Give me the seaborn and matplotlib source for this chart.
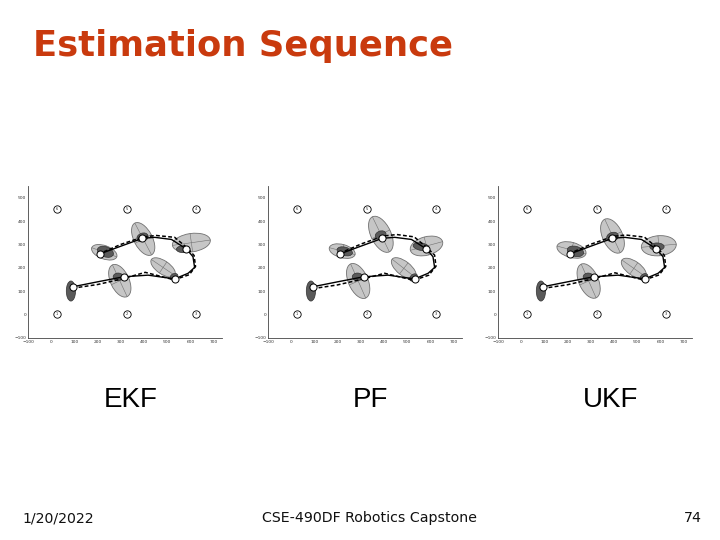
import numpy as np
import pandas as pd
import matplotlib
matplotlib.use("Agg")
import matplotlib.pyplot as plt
import seaborn as sns
from matplotlib.patches import Ellipse

sns.set_style("white")
plt.rcParams['font.family'] = ['DejaVu Sans']

# ---------------- data ----------------
filters = ["EKF", "PF", "UKF"]
x_ticks = [-100, 0, 100, 200, 300, 400, 500, 600, 700]
y_ticks = [-100, 0, 100, 200, 300, 400, 500]

landmark_x = [25, 325, 625, 625, 325, 25]
landmark_y = [0, 0, 0, 450, 450, 450]
landmark_id = ["1", "2", "3", "4", "5", "6"]

true_x = [91, 202, 312, 417, 532, 590, 618, 611, 583, 518, 446, 393, 302, 209]
true_y = [118, 140, 161, 168, 152, 176, 201, 247, 280, 321, 330, 326, 293, 259]

ekf_est_x = [91, 200, 305, 405, 530, 595, 622, 616, 588, 532, 452, 396, 300, 212]
ekf_est_y = [112, 128, 152, 180, 148, 170, 205, 252, 283, 330, 338, 332, 300, 262]
pf_est_x = [91, 198, 303, 402, 528, 593, 624, 618, 586, 530, 455, 398, 302, 214]
pf_est_y = [110, 126, 150, 176, 146, 168, 206, 254, 285, 332, 342, 336, 302, 264]
ukf_est_x = [91, 199, 304, 404, 529, 594, 623, 617, 587, 531, 450, 395, 301, 213]
ukf_est_y = [111, 127, 151, 178, 147, 169, 205, 253, 284, 331, 340, 334, 301, 263]

robot_idx = [0, 2, 4, 8, 11, 13]

# light (large) uncertainty ellipses: centre, width, height, angle
ekf_ell_x = [295, 482, 604, 396, 228]
ekf_ell_y = [144, 201, 307, 323, 266]
ekf_ell_w = [150, 122, 165, 154, 115]
ekf_ell_h = [80, 57, 79, 79, 57]
ekf_ell_a = [115, -34, 8, 118, -20]

pf_ell_x = [288, 485, 583, 386, 219]
pf_ell_y = [143, 197, 293, 343, 271]
pf_ell_w = [160, 128, 144, 167, 115]
pf_ell_h = [84, 60, 79, 86, 57]
pf_ell_a = [114, -38, 15, 116, -15]

ukf_ell_x = [290, 485, 593, 393, 216]
ukf_ell_y = [143, 197, 294, 336, 276]
ukf_ell_w = [158, 125, 151, 158, 129]
ukf_ell_h = [84, 60, 86, 86, 65]
ukf_ell_a = [114, -35, 5, 115, -15]

# dark (small) ellipses
ekf_dk_x = [84, 288, 529, 568, 393, 233]
ekf_dk_y = [100, 161, 161, 279, 330, 268]
ekf_dk_w = [40, 43, 36, 57, 50, 72]
ekf_dk_h = [86, 32, 26, 29, 36, 43]
ekf_dk_a = [0, 0, 30, 0, 20, -20]

pf_dk_x = [84, 285, 527, 560, 385, 230]
pf_dk_y = [100, 161, 158, 290, 340, 270]
pf_dk_w = [40, 45, 38, 70, 48, 68]
pf_dk_h = [86, 32, 26, 32, 34, 36]
pf_dk_a = [0, 0, 40, -10, 20, -15]

ukf_dk_x = [84, 288, 529, 585, 393, 233]
ukf_dk_y = [100, 161, 160, 290, 332, 270]
ukf_dk_w = [40, 43, 36, 62, 52, 72]
ukf_dk_h = [86, 32, 26, 32, 38, 43]
ukf_dk_a = [0, 0, 35, 0, 20, -15]

est_x = {"EKF": ekf_est_x, "PF": pf_est_x, "UKF": ukf_est_x}
est_y = {"EKF": ekf_est_y, "PF": pf_est_y, "UKF": ukf_est_y}
ells = {"EKF": (ekf_ell_x, ekf_ell_y, ekf_ell_w, ekf_ell_h, ekf_ell_a),
        "PF": (pf_ell_x, pf_ell_y, pf_ell_w, pf_ell_h, pf_ell_a),
        "UKF": (ukf_ell_x, ukf_ell_y, ukf_ell_w, ukf_ell_h, ukf_ell_a)}
darks = {"EKF": (ekf_dk_x, ekf_dk_y, ekf_dk_w, ekf_dk_h, ekf_dk_a),
         "PF": (pf_dk_x, pf_dk_y, pf_dk_w, pf_dk_h, pf_dk_a),
         "UKF": (ukf_dk_x, ukf_dk_y, ukf_dk_w, ukf_dk_h, ukf_dk_a)}

# ---------------- figure ----------------
fig = plt.figure(figsize=(7.2, 5.4), dpi=100)
fig.patch.set_facecolor("white")

ax_lefts = [28.3, 268.3, 498.3]
label_cx = [131, 370, 611]
W, H = 720.0, 540.0

for f, left, lcx in zip(filters, ax_lefts, label_cx):
    ax = fig.add_axes([left / W, 1 - 337.7 / H, 193.4 / W, 151.7 / H])
    ax.set_facecolor("white")

    ex, ey, ew, eh, ea = ells[f]
    for cx, cy, w, h, a in zip(ex, ey, ew, eh, ea):
        ax.add_patch(Ellipse((cx, cy), w, h, angle=a, facecolor="#c6c6c6",
                             edgecolor="#707070", lw=0.6, zorder=1))
        t = np.deg2rad(a)
        ax.plot([cx - w / 2 * np.cos(t), cx + w / 2 * np.cos(t)],
                [cy - w / 2 * np.sin(t), cy + w / 2 * np.sin(t)],
                color="#707070", lw=0.4, zorder=1.5)
        ax.plot([cx + h / 2 * np.sin(t), cx - h / 2 * np.sin(t)],
                [cy - h / 2 * np.cos(t), cy + h / 2 * np.cos(t)],
                color="#707070", lw=0.4, zorder=1.5)
    dx, dy, dw, dh, da = darks[f]
    for cx, cy, w, h, a in zip(dx, dy, dw, dh, da):
        ax.add_patch(Ellipse((cx, cy), w, h, angle=a, facecolor="#5a5a5a",
                             edgecolor="#333333", lw=0.5, zorder=2))

    df_true = pd.DataFrame({"x": true_x, "y": true_y})
    df_est = pd.DataFrame({"x": est_x[f], "y": est_y[f]})
    sns.lineplot(data=df_true, x="x", y="y", sort=False, color="black",
                 lw=1.0, ax=ax, zorder=3)
    sns.lineplot(data=df_est, x="x", y="y", sort=False, color="black",
                 lw=1.1, linestyle=(0, (2.5, 1.5)), ax=ax, zorder=3)

    df_rob = pd.DataFrame({"x": [true_x[i] for i in robot_idx],
                           "y": [true_y[i] for i in robot_idx]})
    sns.scatterplot(data=df_rob, x="x", y="y", s=26, color="white",
                    edgecolor="black", linewidth=0.7, ax=ax, zorder=4)

    df_lm = pd.DataFrame({"x": landmark_x, "y": landmark_y})
    sns.scatterplot(data=df_lm, x="x", y="y", s=28, color="white",
                    edgecolor="black", linewidth=0.6, ax=ax, zorder=4)
    for lx, ly, lid in zip(landmark_x, landmark_y, landmark_id):
        ax.text(lx, ly, lid, fontsize=2.6, ha="center", va="center", zorder=5)

    ax.set_xlim(-100, 735)
    ax.set_ylim(-100, 550)
    ax.set_xticks(x_ticks)
    ax.set_yticks(y_ticks)
    ax.tick_params(direction="in", length=1.5, width=0.4, labelsize=3.2,
                   pad=1.5, colors="#333333")
    ax.set_xlabel("")
    ax.set_ylabel("")
    sns.despine(ax=ax)
    for s in ["left", "bottom"]:
        ax.spines[s].set_linewidth(0.6)
        ax.spines[s].set_color("#444444")

    fig.text(lcx / W, 1 - 400 / H, f, fontsize=20, ha="center", va="center",
             family=["Liberation Sans", "DejaVu Sans"], color="black")

fig.text(33 / W, 1 - 46 / H, "Estimation Sequence", fontsize=25.5,
         fontweight="bold", color="#C93A0E", ha="left", va="center")

fig.text(22 / W, 1 - 518 / H, "1/20/2022", fontsize=10.2, ha="left",
         va="center", color="#111111")
fig.text(370 / W, 1 - 518 / H, "CSE-490DF Robotics Capstone", fontsize=10.2,
         ha="center", va="center", color="#111111")
fig.text(702 / W, 1 - 518 / H, "74", fontsize=10.2, ha="right",
         va="center", color="#111111")

fig.savefig("out.png", dpi=100, facecolor="white")
